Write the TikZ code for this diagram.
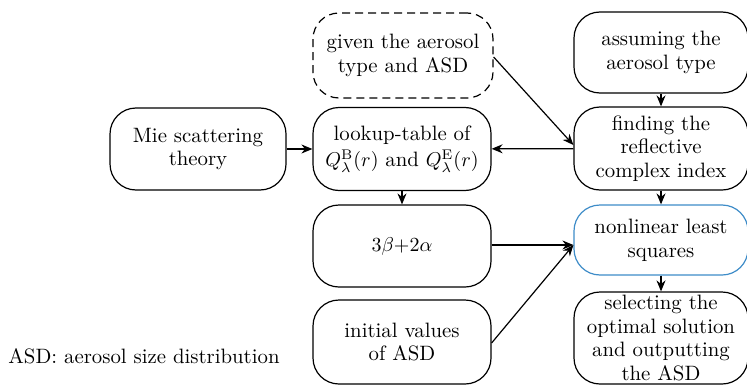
\documentclass[tikz,border=0pt]{standalone}
\usetikzlibrary{arrows.meta}
\definecolor{boxblue}{RGB}{62,140,200}
\begin{document}
\begin{tikzpicture}[x=0.5pt,y=-0.5pt,
  box/.style={draw, line width=0.6pt, rounded corners=13pt, align=center, inner sep=0pt,
    font=\fontsize{10.4}{11.8}\selectfont},
  conn/.style={line width=0.6pt, -{Stealth[length=5.5pt,width=4.5pt]}}]
\useasboundingbox (0,0) rectangle (747,385);
\node[box, minimum width=88pt, minimum height=41pt] (mie) at (198,149) {Mie scattering\\theory};
\node[box, minimum width=89pt, minimum height=41.5pt] (lut) at (402,149) {lookup-table of\\[1.5pt]$Q_\lambda^{\mathrm{B}}(r)$ and $Q_\lambda^{\mathrm{E}}(r)$};
\node[box, dashed, dash pattern=on 4pt off 2.5pt, minimum width=90pt, minimum height=42.5pt] (given) at (403,55.5) {given the aerosol\\type and ASD};
\node[box, minimum width=87pt, minimum height=40.5pt] (assume) at (661,52.5) {assuming the\\aerosol type};
\node[box, minimum width=87pt, minimum height=41.5pt] (find) at (661,148.5) {finding the\\reflective\\complex index};
\node[box, minimum width=89pt, minimum height=41pt] (ab) at (402,246) {$3\beta{+}2\alpha$};
\node[box, minimum width=89pt, minimum height=42pt] (init) at (402,342) {initial values\\of ASD};
\node[box, draw=boxblue, minimum width=87pt, minimum height=35pt] (nls) at (661,240) {nonlinear least\\squares};
\node[box, minimum width=87pt, minimum height=46pt] (sel) at (661,338) {selecting the\\optimal solution\\and outputting\\the ASD};
\node[anchor=base west, inner sep=0pt, font=\fontsize{10.4}{11.8}\selectfont] (note) at (8,363) {ASD: aerosol size distribution};
\draw[conn] (mie) -- (lut);
\draw[conn] (find) -- (lut);
\draw[conn] (given.east |- 0,57) -- (find.west |- 0,145);
\draw[conn] (assume) -- (find);
\draw[conn] (lut) -- (ab);
\draw[conn] (find) -- (nls);
\draw[conn] (ab.east |- 0,245) -- (nls.west |- 0,245);
\draw[conn] (init.east |- 0,343) -- (nls.west |- 0,245);
\draw[conn] (nls) -- (sel);
\end{tikzpicture}
\end{document}
